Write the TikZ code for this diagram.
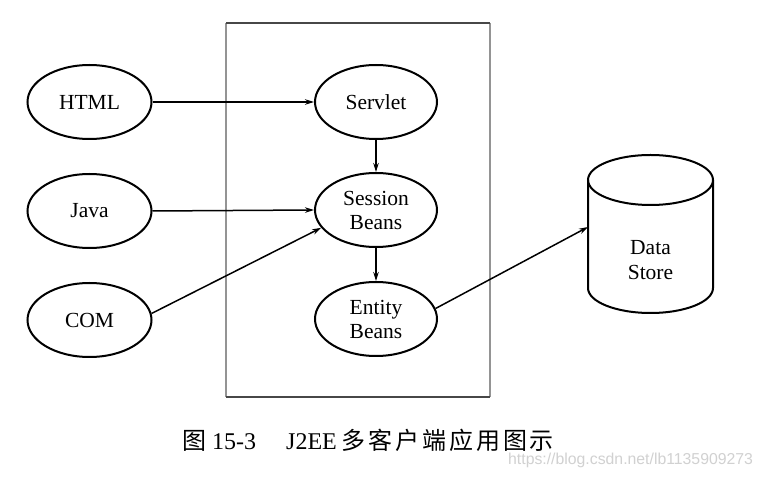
\documentclass[tikz,border=0pt]{standalone}
\usepackage{fontspec}
\setmainfont{Liberation Serif}
\newfontfamily\cjk[LetterSpace=12]{Noto Sans CJK SC}
\newfontfamily\wmfont{Liberation Sans}
\usetikzlibrary{shapes.geometric,arrows.meta}
\begin{document}
\begin{tikzpicture}[x=1pt,y=-1pt,
  oval/.style={ellipse,draw,line width=2pt,minimum width=124pt,minimum height=74pt,inner sep=0pt,align=center,font=\fontsize{21.5}{24}\selectfont},
  conn/.style={line width=1.5pt,-{Stealth[length=9pt,width=5.5pt]}},
  side/.style={line width=2.4pt,black!42},
  topbot/.style={line width=1.8pt,black!72}]
\useasboundingbox[fill=white] (0,0) rectangle (764,478);
% container
\coordinate (r1) at (226,23);
\coordinate (r2) at (490,23);
\coordinate (r3) at (490,397);
\coordinate (r4) at (226,397);
\draw[side] (r1) -- (r4);
\draw[side] (r2) -- (r3);
\draw[topbot] (r1) -- (r2);
\draw[topbot] (r4) -- (r3);
% clients
\node[oval] (html) at (89.5,102) {HTML};
\node[oval] (java) at (89.5,211) {Java};
\node[oval] (com) at (89.5,320) {COM};
% server components
\node[oval,minimum width=122pt] (srv) at (376,102) {Servlet};
\node[oval,minimum width=122pt] (ses) at (376,210) {Session\\Beans};
\node[oval,minimum width=122pt] (ent) at (376,319) {Entity\\Beans};
% data store
\draw[line width=2pt] (713,180) -- (713,288) arc[start angle=0,end angle=-180,x radius=62.5pt,y radius=25pt] -- (588,180);
\draw[line width=2pt] (650.5,180) ellipse [x radius=62.5pt,y radius=25pt];
\node[align=center,font=\fontsize{21.5}{25}\selectfont] (ds) at (650.5,260) {Data\\Store};
\coordinate (dsin) at (588,227);
% connectors
\draw[conn] (html.east) -- (srv.west);
\draw[conn] (java.east) -- (ses.west);
\draw[conn] (com.6) -- (ses.198);
\draw[conn] (srv.south) -- (ses.north);
\draw[conn] (ses.south) -- (ent.north);
\draw[conn] (ent.10) -- (dsin);
% caption
\node[anchor=west,inner sep=0pt,font=\fontsize{24}{26}\selectfont] (cap) at (182,440) {{\cjk 图}\hspace{6pt}15-3\hspace{30pt}J2EE\hspace{5pt}{\cjk 多客户端应用图示}};
\node[anchor=west,inner sep=0pt,text=black!18,font=\wmfont\fontsize{15.8}{17}\selectfont] (wm) at (508,460) {https://blog.csdn.net/lb1135909273};
\end{tikzpicture}
\end{document}
